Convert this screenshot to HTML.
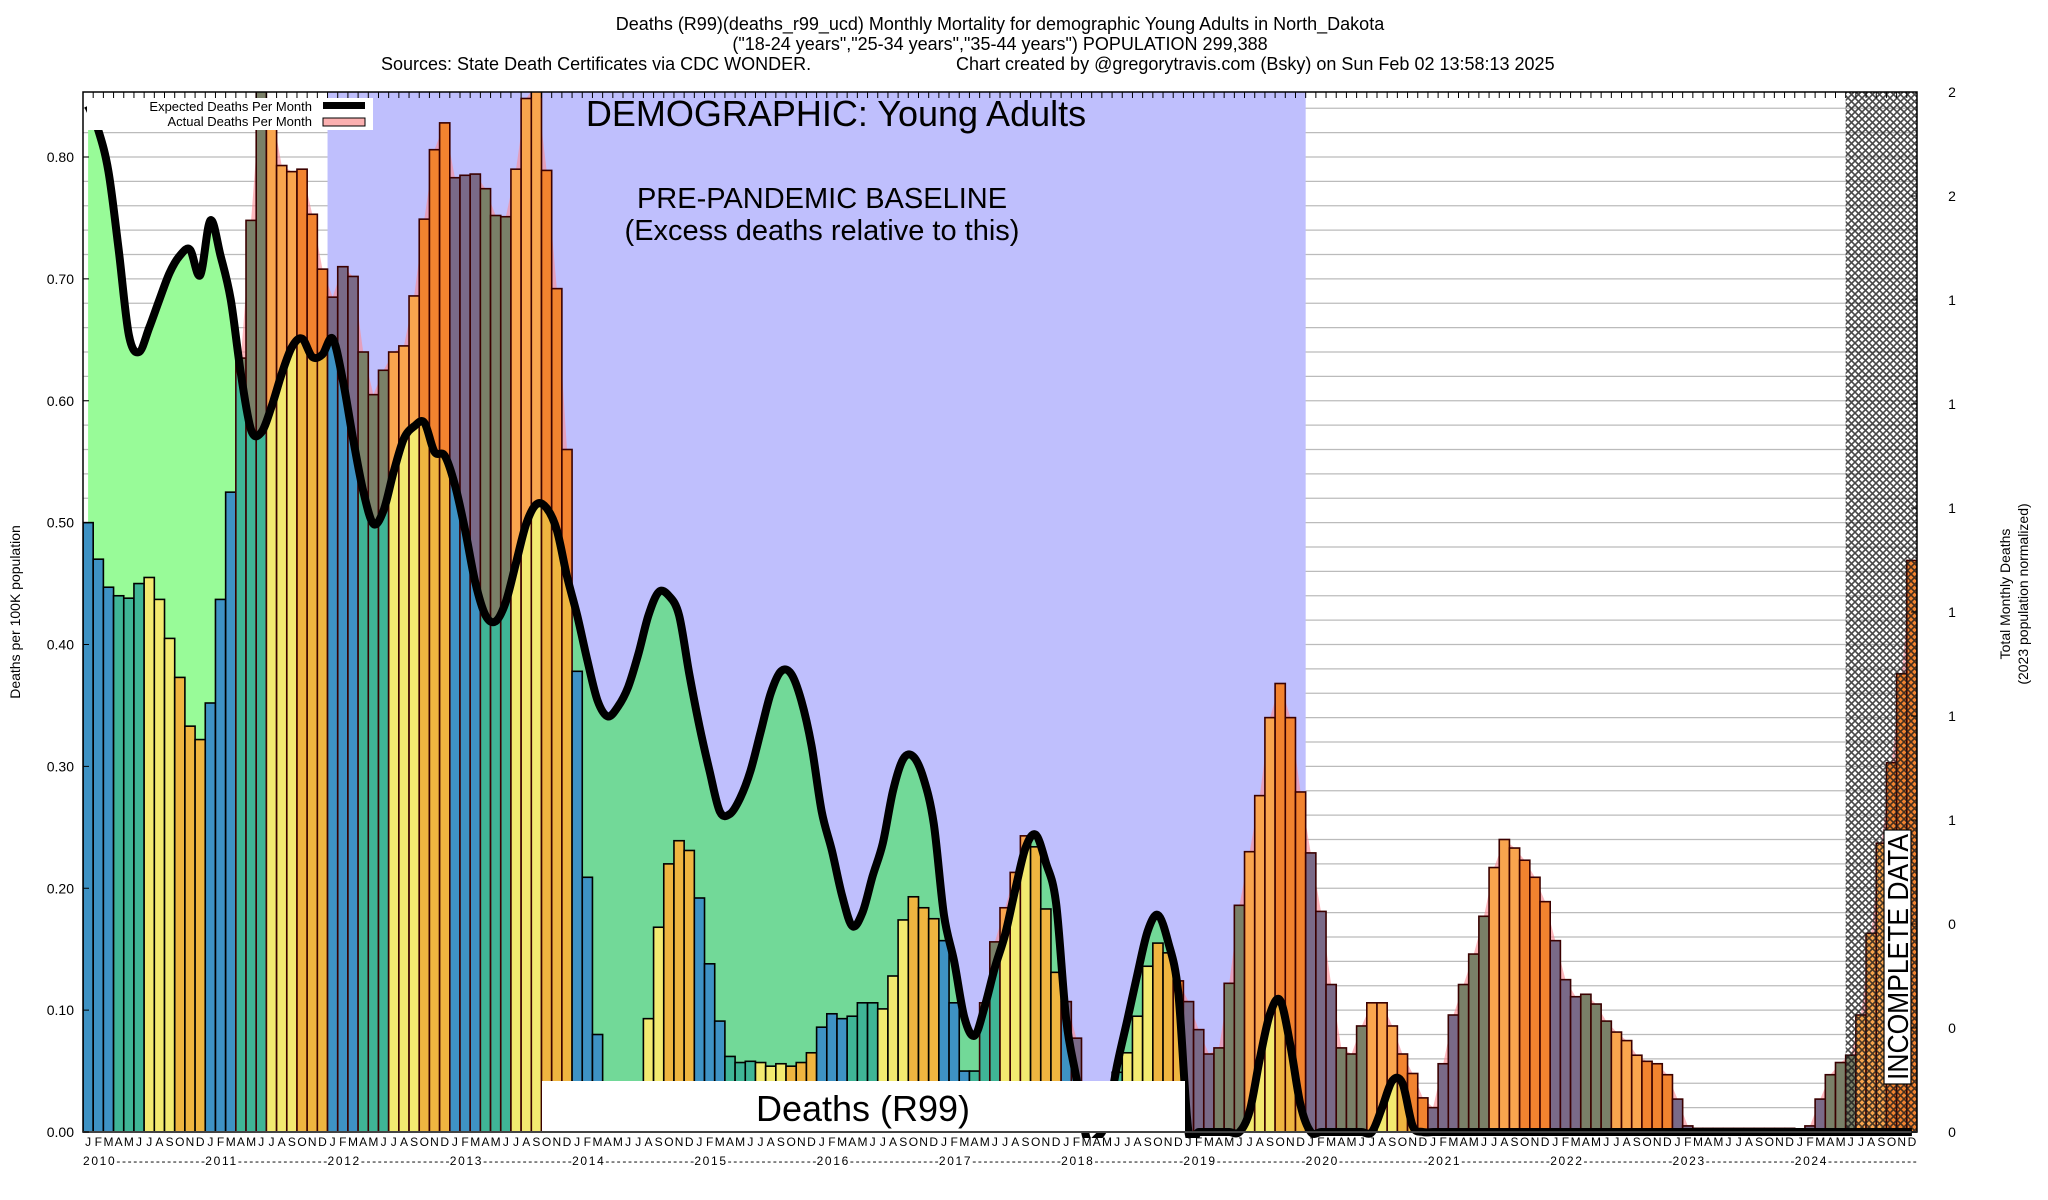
<!DOCTYPE html>
<html><head><meta charset="utf-8"><title>Deaths (R99) Young Adults North Dakota</title>
<style>
html,body{margin:0;padding:0;background:#fff;}
svg{display:block;font-family:"Liberation Sans",Arial,sans-serif;}
</style></head>
<body>
<svg id="chart" width="2048" height="1200" viewBox="0 0 2048 1200" xmlns="http://www.w3.org/2000/svg">
<defs>
<clipPath id="plotClip"><rect x="83" y="92" width="1834" height="1046"/></clipPath>
<clipPath id="whiteL"><rect x="83" y="92" width="244.6" height="1040"/></clipPath>
<clipPath id="lav"><rect x="327.6" y="92" width="978.2" height="1040"/></clipPath>
<clipPath id="whiteR"><rect x="1305.8" y="92" width="612" height="1040"/></clipPath>
<pattern id="hatch" width="7" height="7" patternUnits="userSpaceOnUse">
<path d="M0,0 L7,7 M7,0 L0,7" stroke="#1a1a1a" stroke-width="1.6"/>
</pattern>
</defs>
<text x="1000" y="30" font-size="18" text-anchor="middle">Deaths (R99)(deaths_r99_ucd) Monthly Mortality for demographic Young Adults in North_Dakota</text>
<text x="1000" y="50" font-size="18" text-anchor="middle">("18-24 years","25-34 years","35-44 years") POPULATION 299,388</text>
<text x="381" y="70" font-size="18">Sources: State Death Certificates via CDC WONDER.</text>
<text x="956" y="70" font-size="18">Chart created by @gregorytravis.com (Bsky) on Sun Feb 02 13:58:13 2025</text>
<g id="layers"></g>
<text transform="translate(20,612) rotate(-90)" font-size="14" text-anchor="middle">Deaths per 100K population</text>
<text transform="translate(2010,594) rotate(-90)" font-size="14" text-anchor="middle">Total Monthly Deaths</text>
<text transform="translate(2028,594) rotate(-90)" font-size="14" text-anchor="middle">(2023 population normalized)</text>
</svg>
<script>
const months = ["J","F","M","A","M","J","J","A","S","O","N","D"];
const years = [2010,2011,2012,2013,2014,2015,2016,2017,2018,2019,2020,2021,2022,2023,2024];
const yTicks = [0.00,0.10,0.20,0.30,0.40,0.50,0.60,0.70,0.80];
const y2Labels = ["0","0","0","1","1","1","1","1","1","2","2"];
const actual = [
.500,.470,.447,.440,.438,.450,.455,.437,.405,.373,.333,.322,
.352,.437,.525,.635,.748,.860,.840,.793,.788,.790,.753,.708,
.685,.710,.702,.640,.605,.625,.640,.645,.686,.749,.806,.828,
.783,.785,.786,.774,.752,.751,.790,.848,.860,.789,.692,.560,
.378,.209,.080,0,0,0,0,.093,.168,.220,.239,.231,
.192,.138,.091,.062,.057,.058,.057,.054,.056,.054,.057,.065,
.086,.097,.093,.095,.106,.106,.101,.128,.174,.193,.184,.175,
.157,.106,.050,.050,.106,.156,.184,.213,.243,.234,.183,.131,
.107,.077,0,0,0,.049,.065,.095,.136,.155,.147,.124,
.107,.084,.064,.069,.122,.186,.230,.276,.340,.368,.340,.279,
.229,.181,.121,.069,.064,.087,.106,.106,.087,.064,.048,.028,
.020,.056,.096,.121,.146,.177,.217,.240,.233,.223,.209,.189,
.157,.125,.111,.113,.105,.091,.082,.075,.063,.058,.056,.047,
.027,.005,.003,.003,.003,.003,.003,.003,.003,.003,.003,.003,
.002,.005,.027,.047,.057,.063,.096,.163,.237,.303,.376,.469];
const expected = [
.842,.822,.788,.724,.654,.640,.660,.683,.705,.719,.724,.703,
.748,.719,.683,.622,.576,.574,.595,.622,.644,.651,.636,.638,
.651,.617,.569,.526,.499,.510,.542,.569,.579,.582,.558,.555,
.531,.494,.451,.424,.419,.435,.467,.499,.515,.512,.494,.456,
.424,.387,.354,.341,.349,.365,.392,.424,.443,.440,.424,.376,
.333,.296,.263,.261,.274,.296,.328,.360,.378,.376,.354,.317,
.263,.231,.194,.169,.180,.210,.237,.280,.306,.308,.290,.253,
.178,.140,.094,.079,.103,.135,.162,.199,.233,.244,.221,.188,
.092,.044,-.005,-.005,.010,.055,.092,.130,.165,.178,.156,.114,
0,0,0,0,0,0,.017,.060,.097,.108,.071,.022,
0,0,0,0,0,0,0,.020,.042,.040,.005,0,
0,0,0,0,0,0,0,0,0,0,0,0,
0,0,0,0,0,0,0,0,0,0,0,0,
0,0,0,0,0,0,0,0,0,0,0,0,
0,0,0,0,0,0,0,0,0,0,0,0];

const NS = "http://www.w3.org/2000/svg";
const X0 = 83, X1 = 1917, Y0 = 1132, YT = 92;
const BW = (X1 - X0) / 180;
const YS = 1218.75;
function xL(m){ return X0 + m * BW; }
function xC(m){ return X0 + (m + 0.5) * BW; }
function yV(v){ return Y0 - v * YS; }
const layers = document.getElementById("layers");
function mk(tag, attrs, parent){
  const e = document.createElementNS(NS, tag);
  for (const k in attrs) e.setAttribute(k, attrs[k]);
  (parent || layers).appendChild(e);
  return e;
}
function smooth(pts){
  let d = "M" + pts[0][0].toFixed(2) + "," + pts[0][1].toFixed(2);
  for (let i = 0; i < pts.length - 1; i++){
    const p0 = pts[Math.max(0, i - 1)], p1 = pts[i], p2 = pts[i + 1], p3 = pts[Math.min(pts.length - 1, i + 2)];
    const c1x = p1[0] + (p2[0] - p0[0]) / 6, c1y = p1[1] + (p2[1] - p0[1]) / 6;
    const c2x = p2[0] - (p3[0] - p1[0]) / 6, c2y = p2[1] - (p3[1] - p1[1]) / 6;
    d += " C" + c1x.toFixed(2) + "," + c1y.toFixed(2) + " " + c2x.toFixed(2) + "," + c2y.toFixed(2) + " " + p2[0].toFixed(2) + "," + p2[1].toFixed(2);
  }
  return d;
}

// gridlines
const grid = mk("g", {});


for (let v = 0.02; v < 0.86; v += 0.02){
  const gl = mk("line", {x1: X0, x2: X1, y1: yV(v), y2: yV(v), stroke: "#bbbbbb", "stroke-width": 1.3}, grid);
  
  
}
// baseline region
const lavR = mk("rect", {x: xL(24), y: YT, width: xL(120) - xL(24), height: Y0 - YT, fill: "#bfbffd"});



const ePts = expected.map((v, i) => [xC(i), yV(v)]);
const aPts = actual.map((v, i) => [xC(i), yV(v)]);
const plotG = mk("g", {"clip-path": "url(#plotClip)"});



// pink actual area
let pd = "M" + xC(0) + "," + Y0 + " " + aPts.map(p => "L" + p[0].toFixed(2) + "," + p[1].toFixed(2)).join(" ") + " L" + xC(179) + "," + Y0 + " Z";
const pink = mk("path", {d: pd, fill: "rgba(250,140,150,0.62)"}, plotG);


// green deficit area
const gd = smooth(ePts).replace(/^M/, "M" + xC(0) + "," + Y0 + " L") + " L" + xC(179) + "," + Y0 + " Z";
const g1 = mk("path", {d: gd, fill: "#98fb98", "clip-path": "url(#whiteL)"}, plotG);


const g2 = mk("path", {d: gd, fill: "#72d998", "clip-path": "url(#lav)"}, plotG);



// bars
const base = ["#3e92c4","#3fb596","#f3ea70","#efb540"];
const exc = ["#7a6a88","#7a8068","#f9a54e","#f2832f"];
for (let i = 0; i < 180; i++){
  const a = actual[i], e = Math.max(0, expected[i]);
  if (a <= 0) continue;
  const q = Math.floor((i % 12) / 3);
  const lo = Math.min(a, e);
  const b = mk("rect", {x: xL(i), y: yV(lo), width: BW, height: lo * YS, fill: base[q]}, plotG);
  
  
  if (a > e){
    const x2 = mk("rect", {x: xL(i), y: yV(a), width: BW, height: (a - e) * YS, fill: exc[q]}, plotG);
    
    
  }
  const o = mk("rect", {x: xL(i), y: yV(a), width: BW, height: a * YS, fill: "none", stroke: a > e ? "#3a0000" : "#000", "stroke-width": 1.6}, plotG);
  
  
}
// hatched incomplete region
const hatch = mk("rect", {x: xL(173), y: YT, width: X1 - xL(173), height: Y0 - YT, fill: "url(#hatch)", opacity: 0.8});



// expected line
const eLine = mk("path", {d: smooth(ePts), fill: "none", stroke: "#000", "stroke-width": 8, "stroke-linejoin": "round", "clip-path": "url(#plotClip)"});



// Deaths (R99) box
const db = mk("rect", {x: 542, y: 1081, width: 643, height: 51, fill: "#fff"});


const dt = mk("text", {x: 863, y: 1121, "font-size": 36, "text-anchor": "middle"});
dt.textContent = "Deaths (R99)";



// frame
const fr = mk("rect", {x: X0, y: YT, width: X1 - X0, height: Y0 - YT, fill: "none", stroke: "#000", "stroke-width": 1.5});


const ax = mk("line", {x1: X0, x2: X1, y1: Y0, y2: Y0, stroke: "#444", "stroke-width": 2});


for (let i = 0; i <= 180; i++){
  const t = mk("line", {x1: xL(i), x2: xL(i), y1: YT, y2: YT + 6, stroke: "#000", "stroke-width": 1});
  
  
}

// y ticks
yTicks.forEach(v => {
  const t = mk("text", {x: 74, y: yV(v) + 5, "font-size": 14, "text-anchor": "end"});
  t.textContent = v.toFixed(2);
  
  
  const tk = mk("line", {x1: X0, x2: X0 + 6, y1: yV(v), y2: yV(v), stroke: "#000"});
  
  
});
y2Labels.forEach((s, k) => {
  const yy = Y0 - k * 104;
  const t = mk("text", {x: 1952, y: yy + 5, "font-size": 14, "text-anchor": "middle"});
  t.textContent = s;
  
  
  const tk = mk("line", {x1: X1 - 6, x2: X1, y1: yy, y2: yy, stroke: "#000"});
  
  
});
// x labels
for (let i = 0; i < 180; i++){
  const t = mk("text", {x: xC(i), y: 1146, "font-size": 12, "text-anchor": "middle"});
  t.textContent = months[i % 12];
  
  
}
years.forEach((yr, k) => {
  const t = mk("text", {x: xL(k * 12), y: 1165, "font-size": 12, textLength: 122, lengthAdjust: "spacing"});
  t.textContent = yr + "----------------";
  
  
});

// annotations
const demo = mk("text", {x: 836, y: 126, "font-size": 36, "text-anchor": "middle"});
demo.textContent = "DEMOGRAPHIC: Young Adults";


const pb1 = mk("text", {x: 822, y: 208, "font-size": 29, "text-anchor": "middle"});
pb1.textContent = "PRE-PANDEMIC BASELINE";


const pb2 = mk("text", {x: 822, y: 240, "font-size": 29, "text-anchor": "middle"});
pb2.textContent = "(Excess deaths relative to this)";



// incomplete data label
const ib = mk("rect", {x: 1884, y: 830, width: 27, height: 254, fill: "#fff", stroke: "#000", "stroke-width": 1.2});


const it = mk("text", {transform: "translate(1908,957) rotate(-90)", "font-size": 29, "text-anchor": "middle", textLength: 246, lengthAdjust: "spacingAndGlyphs"});
it.textContent = "INCOMPLETE DATA";



// legend
const lg = mk("g", {});


const lb = mk("rect", {x: 87, y: 98, width: 286, height: 32, fill: "#fff"}, lg);


const l1 = mk("text", {x: 312, y: 111, "font-size": 13, "text-anchor": "end"}, lg);
l1.textContent = "Expected Deaths Per Month";


const l2 = mk("text", {x: 312, y: 126, "font-size": 13, "text-anchor": "end"}, lg);
l2.textContent = "Actual Deaths Per Month";


const s1 = mk("rect", {x: 323, y: 102, width: 42, height: 7, fill: "#000"}, lg);


const s2 = mk("rect", {x: 323, y: 118, width: 42, height: 8, fill: "#fbb0b0", stroke: "#000", "stroke-width": 1}, lg);


</script>
</body></html>
